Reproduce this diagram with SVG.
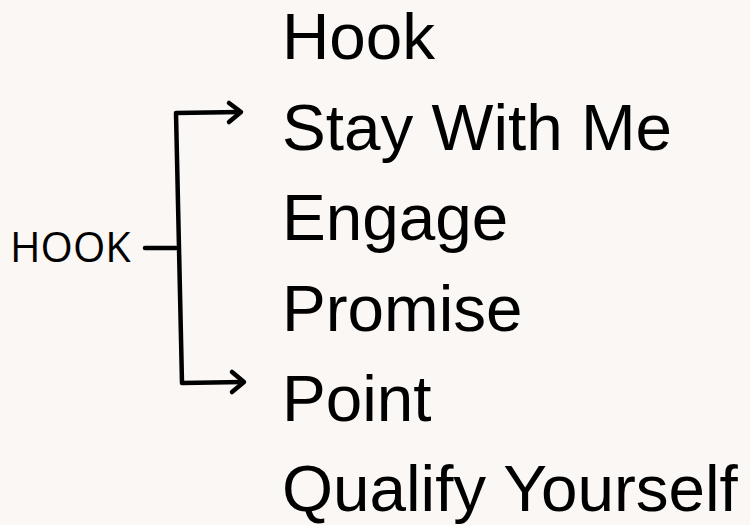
<svg xmlns="http://www.w3.org/2000/svg" width="750" height="525" viewBox="0 0 750 525">
<style>
.item{font-family:"Liberation Sans",Arial,sans-serif;font-size:65.6px;fill:#000}
.root{font-family:"Open Sans","Liberation Sans",sans-serif;font-size:41.5px;fill:#000}
.ln{fill:none;stroke:#000;stroke-width:4.5;stroke-linecap:round;stroke-linejoin:round}
</style>
<rect width="750" height="525" fill="#faf7f4"/>
<g id="connectors">
<path class="ln" d="M145,248 L176,248"/>
<path class="ln" d="M240,112 L176,113 L182,383 L243,382"/>
<path class="ln" d="M229,103 L241,112 L229,122"/>
<path class="ln" d="M232,372 L244,382 L232,392"/>
</g>
<g id="node-root"><text class="root" x="10" y="262">HOOK</text></g>
<g id="node-hook"><text class="item" x="282" y="59">Hook</text></g>
<g id="node-stay"><text class="item" x="282" y="150">Stay With Me</text></g>
<g id="node-engage"><text class="item" x="282" y="240">Engage</text></g>
<g id="node-promise"><text class="item" x="282" y="331">Promise</text></g>
<g id="node-point"><text class="item" x="282" y="421">Point</text></g>
<g id="node-qualify"><text class="item" x="282" y="511">Qualify Yourself</text></g>
</svg>
